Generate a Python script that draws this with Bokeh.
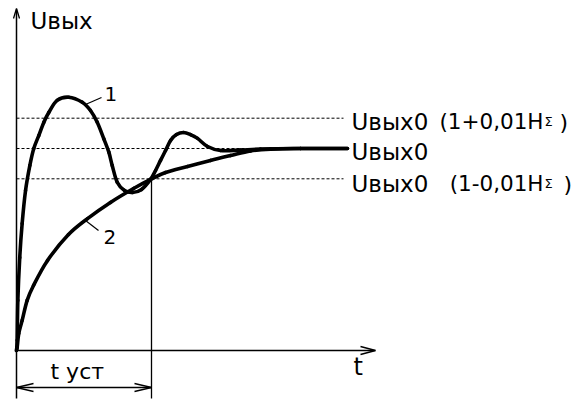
import numpy as np
from bokeh.plotting import figure
from bokeh.models import Range1d
from bokeh.core.properties import value
from bokeh.embed import file_html
from bokeh.resources import INLINE

# ---------------- data (t in units of t_уст, U in units of Uвых0) ----------------
t1 = [0.000, 0.005, 0.010, 0.024, 0.042, 0.067, 0.099, 0.128, 0.165, 0.202, 0.239, 0.301,
      0.387, 0.487, 0.548, 0.598, 0.647, 0.684, 0.709, 0.746, 0.800, 0.859, 0.926, 0.993,
      1.030, 1.067, 1.104, 1.141, 1.185, 1.237, 1.289, 1.341, 1.415, 1.511, 1.659, 1.807,
      2.104, 2.452]
u1 = [0.000, 0.050, 0.248, 0.460, 0.629, 0.792, 0.916, 1.000, 1.064, 1.129, 1.178, 1.238,
      1.254, 1.229, 1.188, 1.130, 1.048, 0.982, 0.916, 0.833, 0.792, 0.782, 0.797, 0.847,
      0.891, 0.941, 0.990, 1.040, 1.069, 1.079, 1.069, 1.050, 1.010, 0.990, 0.992, 0.997,
      1.000, 1.000]
t2 = [0.000, 0.005, 0.017, 0.042, 0.079, 0.126, 0.230, 0.385, 0.526, 0.696, 0.867, 0.993,
      1.104, 1.267, 1.437, 1.585, 1.733, 1.881, 2.104, 2.452]
u2 = [0.000, 0.016, 0.084, 0.149, 0.248, 0.322, 0.446, 0.574, 0.653, 0.733, 0.802, 0.847,
      0.881, 0.911, 0.941, 0.965, 0.988, 0.997, 1.000, 1.000]
band_levels = [1.15, 1.00, 0.85]
band_names = ["Uвых0", "Uвых0", "Uвых0"]
band_factors = ["(1+0,01H", "", "(1-0,01H"]
t_settle = 1.0
y_title = "Uвых"
x_title = "t"
settle_label = "t уст"
curve_names = ["1", "2"]

# ---------------- layout ----------------
W, H = 576, 403
SX, SY = 135.0, 202.0          # pixels per data unit


def X(px):                      # picture pixel -> data
    return (px - 16) / SX


def Y(py):
    return (350 - py) / SY


p = figure(width=W, height=H, output_backend="svg", toolbar_location=None,
           x_range=Range1d(X(0), X(W)), y_range=Range1d(Y(H), Y(0)),
           x_axis_type=None, y_axis_type=None, min_border=0,
           outline_line_color=None, background_fill_color="white",
           border_fill_color="white")
p.grid.visible = False

FONT = value("DejaVu Sans")


def bez(ts, us):
    x0, y0, x1, y1, cx0, cy0, cx1, cy1 = [], [], [], [], [], [], [], []
    n = len(ts)
    for i in range(n - 1):
        a = max(i - 1, 0)
        b = min(i + 2, n - 1)
        x0.append(ts[i]); y0.append(us[i]); x1.append(ts[i + 1]); y1.append(us[i + 1])
        cx0.append(ts[i] + (ts[i + 1] - ts[a]) / 6); cy0.append(us[i] + (us[i + 1] - us[a]) / 6)
        cx1.append(ts[i + 1] - (ts[b] - ts[i]) / 6); cy1.append(us[i + 1] - (us[b] - us[i]) / 6)
    return dict(x0=x0, y0=y0, x1=x1, y1=y1, cx0=cx0, cy0=cy0, cx1=cx1, cy1=cy1)


def head(tx, ty, dx, dy, L, hw, lw=1.3):
    bx, by = tx - dx * L / SX, ty - dy * L / SY
    nx, ny = -dy, dx
    xs = [[bx + nx * hw / SX, tx], [bx - nx * hw / SX, tx]]
    ys = [[by + ny * hw / SY, ty], [by - ny * hw / SY, ty]]
    p.multi_line(xs, ys, line_color="black", line_width=lw)


# dashed tolerance lines
t_end_dash = X(343)
for lvl in band_levels:
    p.line([0, t_end_dash], [lvl, lvl], line_color="black", line_width=1,
           line_dash="3 2")

# axes
p.line([0, 0], [Y(398), Y(9)], line_color="black", line_width=1.5)
p.line([0, X(374)], [0, 0], line_color="black", line_width=1.5)
head(0, Y(8), 0, 1, 10, 3)
head(X(375), 0, 1, 0, 15, 4)

# settling time marker
p.line([t_settle, t_settle], [band_levels[2], Y(398)], line_color="black", line_width=1.3)
p.line([0, t_settle], [Y(387), Y(387)], line_color="black", line_width=1.3)
head(0, Y(387), -1, 0, 17, 4)
head(t_settle, Y(387), 1, 0, 17, 4)

# curves
for ts, us in ((t2, u2), (t1, u1)):
    p.bezier(**bez(ts, us), line_color="black", line_width=3.6, line_cap="round")

# curve name leaders
p.line([X(85), X(101)], [Y(104), Y(97)], line_color="black", line_width=1.2)
p.line([X(85), X(98)], [Y(220), Y(230)], line_color="black", line_width=1.2)

DY = 7  # baseline correction


def txt(px, py, s, size, align="left"):
    p.text([X(px)], [Y(py - DY)], [s], text_font=FONT, text_font_size=size,
           text_color="black", text_align=align, text_baseline="alphabetic")


txt(104, 100, curve_names[0], "20px")
txt(103, 243, curve_names[1], "20px")
txt(30, 27, y_title, "23px")
txt(353, 373, x_title, "24px")
txt(50, 378, settle_label, "22px")
base_lines = [128, 158, 190]
for name, fac, py in zip(band_names, band_factors, base_lines):
    txt(351, py, name, "23px")
    if fac:
        txt(543, py, fac, "21.5px", align="right")
        txt(544, py, "Σ", "13px")
txt(559, base_lines[0] + 1, ")", "22px")
txt(563, base_lines[2] + 1, ")", "22px")

open("out.html", "w").write(file_html(p, INLINE))
